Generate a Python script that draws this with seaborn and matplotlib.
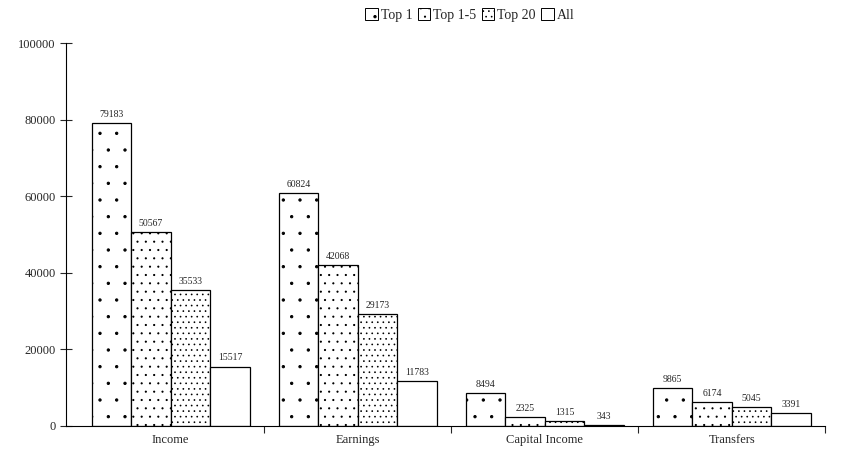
import pandas as pd
import seaborn as sns
import matplotlib.pyplot as plt
import matplotlib.hatch as mhatch
from matplotlib.ticker import FixedLocator, NullFormatter

categories = ['Income', 'Earnings', 'Capital Income', 'Transfers']
groups = ['Top 1', 'Top 1-5', 'Top 20', 'All']
top1 = [79183, 60824, 8494, 9865]
top1_5 = [50567, 42068, 2325, 6174]
top20 = [35533, 29173, 1315, 5045]
all_ = [15517, 11783, 343, 3391]

rows = []
for g, vals in zip(groups, [top1, top1_5, top20, all_]):
    for c, v in zip(categories, vals):
        rows.append({'cat': c, 'group': g, 'value': v})
df = pd.DataFrame(rows)

# smaller dots for the '.' hatch
mhatch.SmallFilledCircles.size = 0.07

sns.set_style('white')
plt.rcParams['font.family'] = ['Liberation Serif', 'DejaVu Serif']
plt.rcParams['hatch.linewidth'] = 0.7

fig = plt.figure(figsize=(8.42, 4.59), dpi=100)
ax = fig.add_axes([0.0784, 0.0719, 0.9016, 0.8344])

palette = {g: 'white' for g in groups}
sns.barplot(data=df, x='cat', y='value', hue='group', palette=palette,
            edgecolor='black', linewidth=0.9, width=0.845, saturation=1,
            ax=ax, legend=True)

hatches = ['.', '..', '...', '']
for cont, h in zip(ax.containers, hatches):
    for bar in cont:
        bar.set_hatch(h)
        bar.set_edgecolor('black')
    ax.bar_label(cont, labels=[str(int(v)) for v in cont.datavalues],
                 fontsize=7, padding=3)

ax.set_ylim(0, 100000)
ax.set_yticks([0, 20000, 40000, 60000, 80000, 100000])
ax.set_xlim(-0.56, 3.5)
ax.set_xlabel('')
ax.set_ylabel('')
ax.xaxis.set_minor_locator(FixedLocator([0.5, 1.5, 2.5, 3.5]))
ax.xaxis.set_minor_formatter(NullFormatter())
ax.tick_params(axis='x', which='major', length=0, labelsize=9, pad=6)
ax.tick_params(axis='x', which='minor', length=5, width=0.8, direction='out', bottom=True)
ax.tick_params(axis='y', length=8, width=0.8, direction='inout', labelsize=9, left=True)

for side in ['top', 'right']:
    ax.spines[side].set_visible(False)
for side in ['left', 'bottom']:
    ax.spines[side].set_color('black')
    ax.spines[side].set_linewidth(0.8)

handles, labels = ax.get_legend_handles_labels()
ax.legend_.remove()
for hnd, h in zip(handles, hatches):
    hnd.set_hatch(h)
    hnd.set_edgecolor('black')
    hnd.set_linewidth(0.7)
fig.legend(handles, labels, loc='center', bbox_to_anchor=(0.558, 0.967), ncol=4,
           frameon=False, fontsize=10, handlelength=0.9, handleheight=0.9,
           handletextpad=0.2, columnspacing=0.4)

fig.savefig('out.png', dpi=100)
